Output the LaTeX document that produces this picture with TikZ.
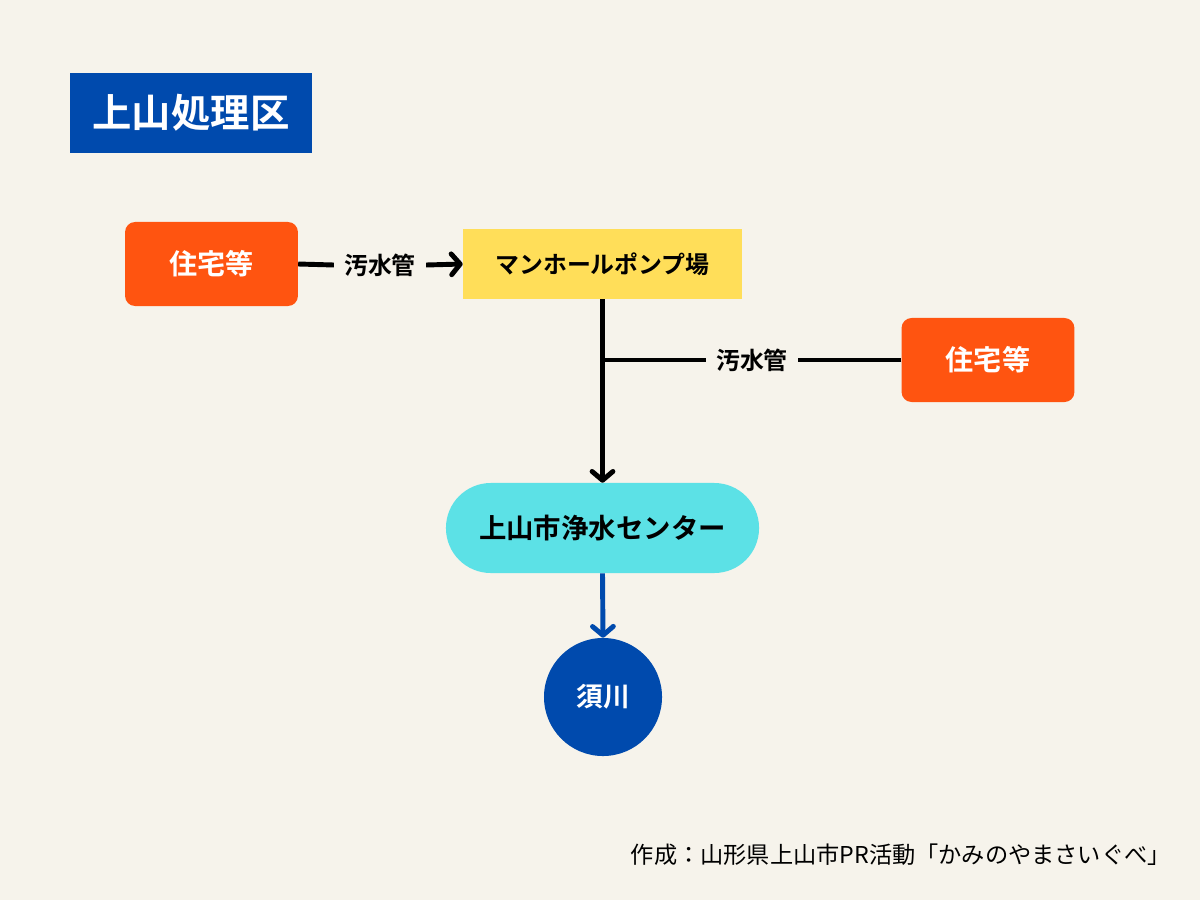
\documentclass[tikz,border=0pt]{standalone}
\usepackage{fontspec}
\setmainfont{Noto Sans CJK JP}
\newfontfamily\jpbold{Noto Sans CJK JP Bold}
\usetikzlibrary{arrows.meta}

\definecolor{bgcream}{HTML}{F6F3EB}
\definecolor{areablue}{HTML}{004AAD}
\definecolor{houseorange}{HTML}{FF5410}
\definecolor{pumpyellow}{HTML}{FFDE59}
\definecolor{plantcyan}{HTML}{5CE1E6}

\begin{document}
\begin{tikzpicture}[
		x=0.025cm, y=-0.025cm,
		box/.style={draw=none, align=center, inner sep=0pt, font=\jpbold},
		house/.style={box, fill=houseorange, text=white, rounded corners=0.25cm,
			minimum width=4.32cm, minimum height=2.1cm, font=\jpbold\fontsize{20}{24}\selectfont},
		pipe/.style={font=\jpbold\fontsize{17}{20}\selectfont, inner xsep=0.25cm, inner ysep=0pt},
		flow/.style={line width=3.5pt, black},
		arrowflow/.style={flow, -{Straight Barb[length=2.2mm,width=5.2mm,round]}},
		outflow/.style={line width=3.5pt, areablue, -{Straight Barb[length=2.2mm,width=5.2mm,round]}}
		]
		
		% Background and page size
		\fill[bgcream] (0,0) rectangle (1200,900);
		\useasboundingbox (0,0) rectangle (1200,900);
		
		% Title
		\node[box, fill=areablue, text=white, minimum width=6.05cm, minimum height=2cm,
			font=\jpbold\fontsize{28}{32}\selectfont] (title) at (191,113) {上山処理区};
		
		% Houses, pump station, plant and river
		\node[house] (house1) at (211.5,264) {住宅等};
		\node[house] (house2) at (988,360) {住宅等};
		\node[box, fill=pumpyellow, minimum width=6.975cm, minimum height=1.75cm,
			font=\jpbold\fontsize{17}{20}\selectfont] (pump) at (602.5,264) {マンホールポンプ場};
		\node[box, fill=plantcyan, rounded corners=1.12cm, minimum width=7.825cm, minimum height=2.25cm,
			font=\jpbold\fontsize{19.5}{23}\selectfont] (plant) at (602.5,528) {上山市浄水センター};
		\node[box, circle, fill=areablue, text=white, minimum size=2.95cm,
			font=\jpbold\fontsize{19}{23}\selectfont] (river) at (603,697) {須川};
		
		% Sewer pipe labels
		\node[pipe] (pipe1) at (380,265) {汚水管};
		\node[pipe] (pipe2) at (752,360) {汚水管};
		\coordinate (junction) at (603,360);
		
		% Connectors
		\draw[flow] (house1.east) -- (pipe1.west);
		\draw[arrowflow] (pipe1.east) -- (pump.west);
		\draw[arrowflow] (pump.south) -- (plant.north);
		\draw[flow] (house2.west) -- (pipe2.east);
		\draw[flow] (pipe2.west) -- (junction);
		\draw[outflow] (plant.south) -- (river.north);
		
		% Credit
		\node[anchor=east, font=\fontsize{16.5}{20}\selectfont, inner sep=0pt] (credit) at (1171,855)
			{作成：山形県上山市PR活動「かみのやまさいぐべ」};
		
	\end{tikzpicture}
\end{document}
